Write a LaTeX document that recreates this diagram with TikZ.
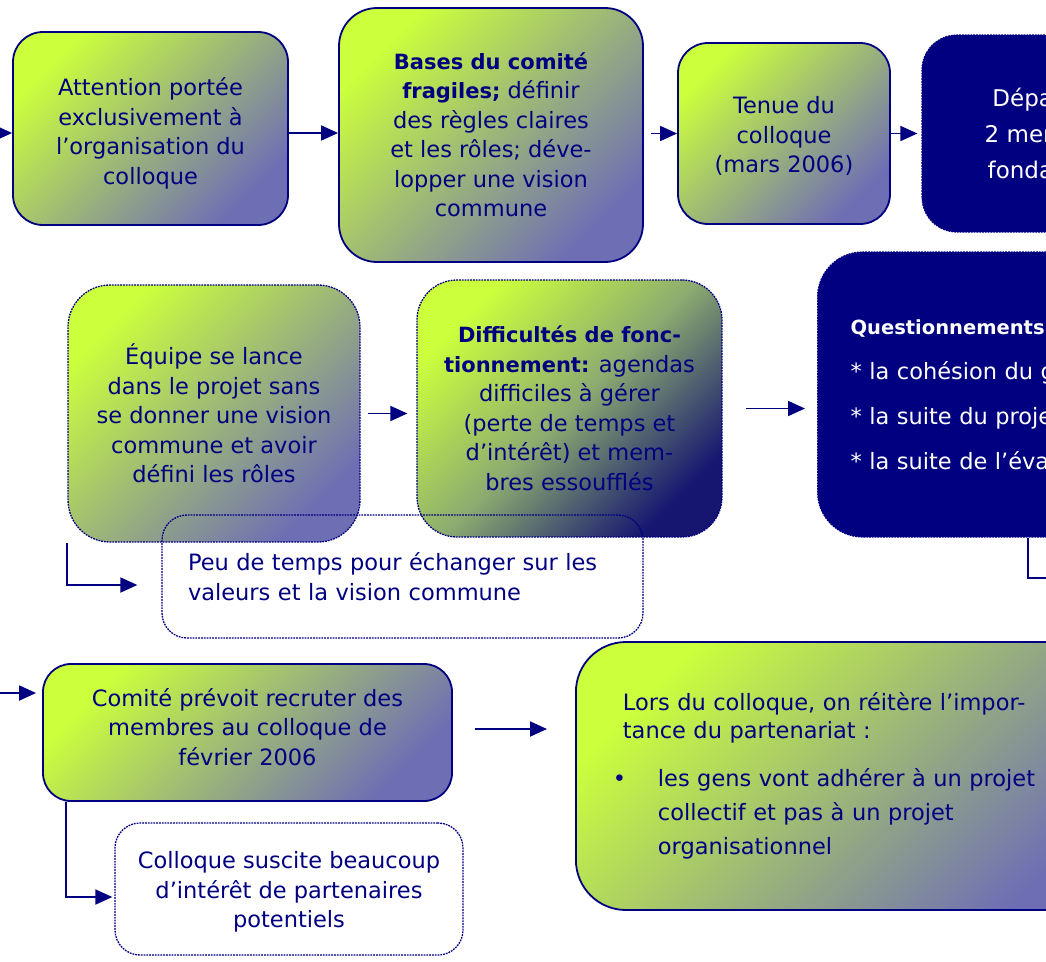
\documentclass[tikz,border=0pt]{standalone}
\usepackage{fontspec}
\setmainfont{DejaVu Sans}
\usetikzlibrary{arrows.meta,positioning,calc}
\definecolor{navyb}{RGB}{0,0,128}
\definecolor{limeg}{RGB}{204,255,60}
\definecolor{slateb}{RGB}{110,110,180}
\definecolor{deepb}{RGB}{22,22,112}
\definecolor{midg}{RGB}{140,172,112}
\newcommand{\hi}[1]{{\fontsize{21}{29.5}\selectfont\bfseries #1}}

\begin{document}
\begin{tikzpicture}[x=1pt, y=-1pt,
  box/.style={draw=navyb, line width=1.8pt, rounded corners=30pt, text=navyb, align=center, inner sep=0pt, font=\fontsize{22.5}{29.5}\selectfont},
  grad/.style={top color=limeg, bottom color=slateb, shading angle=45},
  gradd/.style={top color=limeg, bottom color=deepb, middle color=midg, shading angle=45},
  dark/.style={fill=navyb, text=white, densely dotted, line width=1.2pt},
  dot/.style={densely dotted, line width=1.3pt},
  arr/.style={draw=navyb, line width=1.8pt, -{Triangle[length=17pt,width=15pt]}}
]
  \useasboundingbox (0,0) rectangle (1046,961);
  \clip (0,0) rectangle (1046,961);

  % first row
  \node[box, grad, minimum width=275pt, minimum height=193pt, text height=116pt] (a1) at (150.5,128.5) {Attention portée\\exclusivement à\\l’organisation du\\colloque};
  \node[box, grad, rounded corners=38pt, minimum width=304pt, minimum height=254pt] (a2) at (491,135) {\hi{Bases du comité}\\\hi{fragiles;} définir\\des règles claires\\et les rôles; déve-\\lopper une vision\\commune};
  \node[box, grad, minimum width=212pt, minimum height=181pt, text height=81pt] (a3) at (784,133.5) {Tenue du\\colloque\\(mars 2006)};
  \node[box, dark, rounded corners=35pt, minimum width=256pt, minimum height=197pt, font=\fontsize{23}{36}\selectfont] (a4) at (1050,133.5) {Départ de\\2 membres\\fondateurs};

  % second row
  \node[box, grad, dot, rounded corners=42pt, minimum width=292pt, minimum height=257pt] (e1) at (214,413.5) {Équipe se lance\\dans le projet sans\\se donner une vision\\commune et avoir\\défini les rôles};
  \node[box, gradd, dot, rounded corners=40pt, minimum width=305pt, minimum height=257pt] (e2) at (569.5,408.5) {\hi{Difficultés de fonc-}\\\hi{tionnement:} agendas\\difficiles à gérer\\(perte de temps et\\d’intérêt) et mem-\\bres essoufflés};
  \node[box, dark, rounded corners=45pt, anchor=west, align=left, text width=300pt, inner xsep=33pt, minimum height=285pt, font=\fontsize{22.5}{45}\selectfont] (q) at (817,394.5) {{\fontsize{19.5}{45}\selectfont\bfseries Questionnements :}\\{}* la cohésion du groupe\\{}* la suite du projet\\{}* la suite de l’évaluation};
  \node[box, dot, rounded corners=25pt, align=left, text width=429pt, inner xsep=26pt, minimum height=123pt] (p) at (402.5,576.5) {Peu de temps pour échanger sur les\\valeurs et la vision commune};

  % third row
  \node[box, grad, rounded corners=28pt, minimum width=409pt, minimum height=137pt, text depth=12pt] (c1) at (247.5,732.5) {Comité prévoit recruter des\\membres au colloque de\\février 2006};
  \node[box, dot, rounded corners=25pt, minimum width=348pt, minimum height=132pt, text height=82pt] (c2) at (289,889) {Colloque suscite beaucoup\\d’intérêt de partenaires\\potentiels};
  \node[box, grad, rounded corners=50pt, anchor=west, align=left, text width=460pt, inner xsep=47pt, minimum height=268pt, font=\fontsize{22.5}{28}\selectfont] (l) at (575,776) {Lors du colloque, on réitère l’impor-\\tance du partenariat :\\[20pt]\hspace*{-10pt}\makebox[45pt][l]{\textbullet}les gens vont adhérer à un projet\\[6pt]\hspace*{35pt}collectif et pas à un projet\\[6pt]\hspace*{35pt}organisationnel};

  \coordinate (in1) at (-30,133);
  \coordinate (in2) at (-30,693);
  \coordinate (out1) at (1100,578);

  % connectors
  \draw[arr] (in1) -- (in1 -| a1.west);
  \draw[arr] ($(a1.east)+(0,4.5)$) -- ($(a1.east -| a2.west)+(0,4.5)$);
  \draw[arr, shorten <=7pt] (a2.east |- a3.west) -- (a3.west);
  \draw[arr, shorten >=4pt] (a3.east) -- (a3.east -| a4.west);
  \draw[arr, shorten <=7pt, shorten >=9pt] (e1.east) -- (e1.east -| e2.west);
  \draw[arr, shorten <=23pt, shorten >=12pt] (e2.east) -- (e2.east -| q.west);
  \draw[arr, shorten >=24pt] (e1.south west) |- ($(p.west)+(0,8.5)$);
  \draw[arr] ([xshift=211pt]q.south west) |- (out1);
  \draw[arr, shorten >=6pt] (in2) -- (in2 -| c1.west);
  \draw[arr, shorten >=2pt] ([xshift=24pt]c1.south west) |- ($(c2.west)+(0,8)$);
  \draw[arr, shorten <=22pt, shorten >=28pt] ($(c1.east)+(0,-3.5)$) -- ($(c1.east -| l.west)+(0,-3.5)$);
\end{tikzpicture}
\end{document}
